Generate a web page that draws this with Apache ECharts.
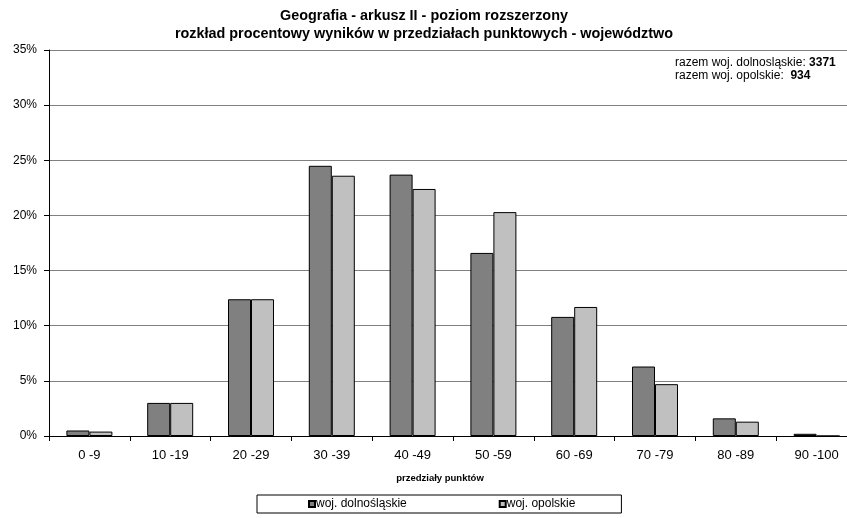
<!DOCTYPE html>
<html>
<head>
<meta charset="utf-8">
<script src="https://cdn.jsdelivr.net/npm/echarts@6/dist/echarts.min.js"></script>
<style>
  html, body { margin: 0; padding: 0; background: #fff; overflow: hidden; }
  /* the canvas is a little wider than the window so the plot runs past the right edge */
  #chart { width: 860px; height: 518px; }
</style>
</head>
<body>
<div id="chart"></div>
<script>
// Score ranges (x-axis categories)
const categories = ['0 -9', '10 -19', '20 -29', '30 -39', '40 -49', '50 -59', '60 -69', '70 -79', '80 -89', '90 -100'];

// Percentage of results in each range
const dolnoslaskie = [0.5, 3.0, 12.4, 24.5, 23.7, 16.6, 10.8, 6.3, 1.6, 0.2];
const opolskie     = [0.4, 3.0, 12.4, 23.6, 22.4, 20.3, 11.7, 4.7, 1.3, 0];

// Series names and totals
const seriesNames = ['woj. dolnośląskie', 'woj. opolskie'];
const totalDolnoslaskie = 3371;
const totalOpolskie = 934;

// Y-axis range (percent)
const yMin = 0, yMax = 35, yStep = 5;

const FONT = '"Liberation Sans", Arial, sans-serif';

const chart = echarts.init(document.getElementById('chart'), null, { renderer: 'canvas' });

chart.setOption({
  animation: false,
  backgroundColor: '#fff',
  textStyle: { fontFamily: FONT, color: '#000' },
  title: {
    text: 'Geografia - arkusz II - poziom rozszerzony\nrozkład procentowy wyników w przedziałach punktowych - województwo',
    left: 419,
    textAlign: 'center',
    top: 2,
    textStyle: { fontFamily: FONT, fontSize: 14.4, fontWeight: 'bold', color: '#000', lineHeight: 18 }
  },
  grid: { left: 49, top: 50, width: 808, height: 386, containLabel: false },
  legend: {
    data: seriesNames,
    left: 257,
    top: 495,
    icon: 'rect',
    itemWidth: 6,
    itemHeight: 6,
    itemGap: 92,
    padding: [3, 46, 3, 51],
    borderColor: '#000',
    borderWidth: 1,
    textStyle: { fontFamily: FONT, fontSize: 12, color: '#000', padding: [0, 0, 0, -4] }
  },
  xAxis: {
    type: 'category',
    data: categories,
    name: 'przedziały punktów',
    nameLocation: 'middle',
    nameGap: 37,
    nameTextStyle: { fontFamily: FONT, fontSize: 9.5, fontWeight: 'bold', color: '#000', padding: [0, 26, 0, 0] },
    axisLine: { lineStyle: { color: '#000', width: 1 } },
    axisTick: { show: true, length: 5, lineStyle: { color: '#000' } },
    axisLabel: { fontFamily: FONT, fontSize: 13, color: '#000', margin: 13 }
  },
  yAxis: {
    type: 'value',
    min: yMin,
    max: yMax,
    interval: yStep,
    axisLine: { show: true, lineStyle: { color: '#000', width: 1 } },
    axisTick: { show: true, length: 5, lineStyle: { color: '#000' } },
    axisLabel: { fontFamily: FONT, fontSize: 12, color: '#000', margin: 12, formatter: '{value}%' },
    splitLine: { show: true, lineStyle: { color: '#808080', width: 1 } }
  },
  series: [
    {
      name: seriesNames[0],
      type: 'bar',
      data: dolnoslaskie,
      barWidth: 23,
      barGap: '0%',
      itemStyle: { color: '#808080', borderColor: '#000', borderWidth: 1 }
    },
    {
      name: seriesNames[1],
      type: 'bar',
      data: opolskie,
      barWidth: 23,
      barGap: '0%',
      itemStyle: { color: '#c0c0c0', borderColor: '#000', borderWidth: 1 }
    }
  ],
  graphic: [
    {
      type: 'text',
      left: 675,
      top: 57,
      style: {
        text: '{n|razem woj. dolnosląskie: }{b|' + totalDolnoslaskie + '}\n{n|razem woj. opolskie:  }{b|' + totalOpolskie + '}',
        rich: {
          n: { fontFamily: FONT, fontSize: 12, fill: '#000', lineHeight: 13 },
          b: { fontFamily: FONT, fontSize: 12, fontWeight: 'bold', fill: '#000', lineHeight: 13 }
        }
      }
    }
  ]
});
</script>
</body>
</html>
